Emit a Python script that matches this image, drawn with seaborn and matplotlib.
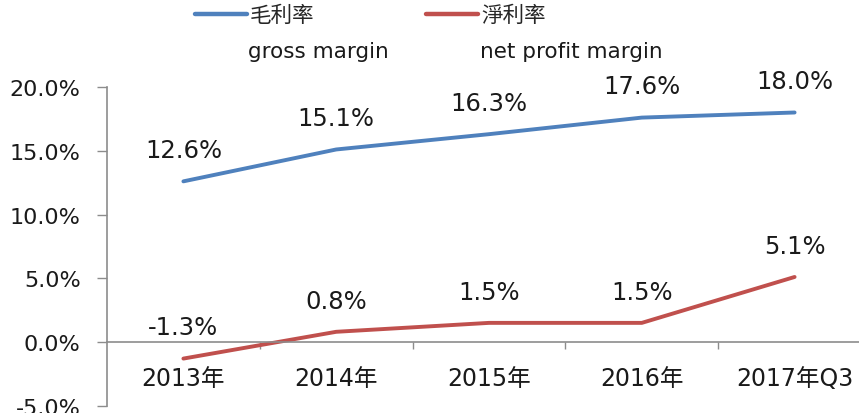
import matplotlib
matplotlib.use("Agg")
import matplotlib.pyplot as plt
import seaborn as sns
import pandas as pd
from matplotlib.ticker import FixedLocator, FuncFormatter
from matplotlib.lines import Line2D

categories = ["2013年", "2014年", "2015年", "2016年", "2017年Q3"]
gross_margin = [12.6, 15.1, 16.3, 17.6, 18.0]
net_margin = [-1.3, 0.8, 1.5, 1.5, 5.1]
series_cn = ["毛利率", "淨利率"]
series_en = ["gross margin", "net profit margin"]
y_ticks = [-5, 0, 5, 10, 15, 20]

sns.set_theme(style="white")
plt.rcParams['font.family'] = ['DejaVu Sans', 'Noto Sans CJK TC']

W, H = 859, 414
fig = plt.figure(figsize=(W / 100, H / 100), dpi=100)
left, right, top, bottom = 107, 871, 88, 406.75
ax = fig.add_axes([left / W, 1 - bottom / H, (right - left) / W, (bottom - top) / H])

df = pd.DataFrame({
    "x": list(range(len(categories))) * 2,
    "v": gross_margin + net_margin,
    "s": [series_cn[0]] * len(categories) + [series_cn[1]] * len(categories),
})
colors = {series_cn[0]: "#4F81BD", series_cn[1]: "#C0504D"}
sns.lineplot(data=df, x="x", y="v", hue="s", palette=colors, linewidth=2.8, ax=ax, legend=False)

for vals in (gross_margin, net_margin):
    for i, v in enumerate(vals):
        ax.annotate(f"{v:.1f}%", (i, v), xytext=(0, 22.5), textcoords="offset points",
                    ha="center", va="center", fontsize=17.5, color="#1a1a1a")

ax.set_xlim(-0.5, len(categories) - 0.5)
ax.set_ylim(-5, 20)
ax.set_yticks(y_ticks)
ax.yaxis.set_major_formatter(FuncFormatter(lambda v, p: f"{v:.1f}%"))
ax.tick_params(axis="y", labelsize=16, length=7, width=1, color="#8c8c8c", pad=12, labelcolor="#1a1a1a", left=True)

ax.xaxis.set_major_locator(FixedLocator([i + 0.5 for i in range(len(categories) - 1)]))
ax.xaxis.set_major_formatter(FuncFormatter(lambda v, p: ""))
ax.xaxis.set_minor_locator(FixedLocator(list(range(len(categories)))))
ax.set_xticklabels(categories, minor=True)
ax.tick_params(axis="x", which="major", length=5, width=1, color="#8c8c8c", bottom=True, direction="out")
ax.tick_params(axis="x", which="minor", length=0, labelsize=17, pad=17, labelcolor="#1a1a1a")

for s in ("top", "right"):
    ax.spines[s].set_visible(False)
ax.spines["bottom"].set_position(("data", 0))
for s in ("left", "bottom"):
    ax.spines[s].set_color("#8c8c8c")
    ax.spines[s].set_linewidth(1.2)
ax.set_xlabel("")
ax.set_ylabel("")
ax.grid(False)

# legend
handles = [Line2D([], [], color=colors[s], linewidth=3.2) for s in series_cn]
fig.legend(handles, series_cn, loc="center left", bbox_to_anchor=(195 / W, 1 - 16 / H), ncol=2,
           frameon=False, fontsize=15.5, handlelength=2.4, handletextpad=0.15, columnspacing=5.2,
           borderaxespad=0, borderpad=0)
fig.text(248 / W, 1 - 52 / H, series_en[0], fontsize=15.5, va="center", ha="left", color="#1a1a1a")
fig.text(480 / W, 1 - 52 / H, series_en[1], fontsize=15.5, va="center", ha="left", color="#1a1a1a")

fig.savefig("out.png", dpi=100)
